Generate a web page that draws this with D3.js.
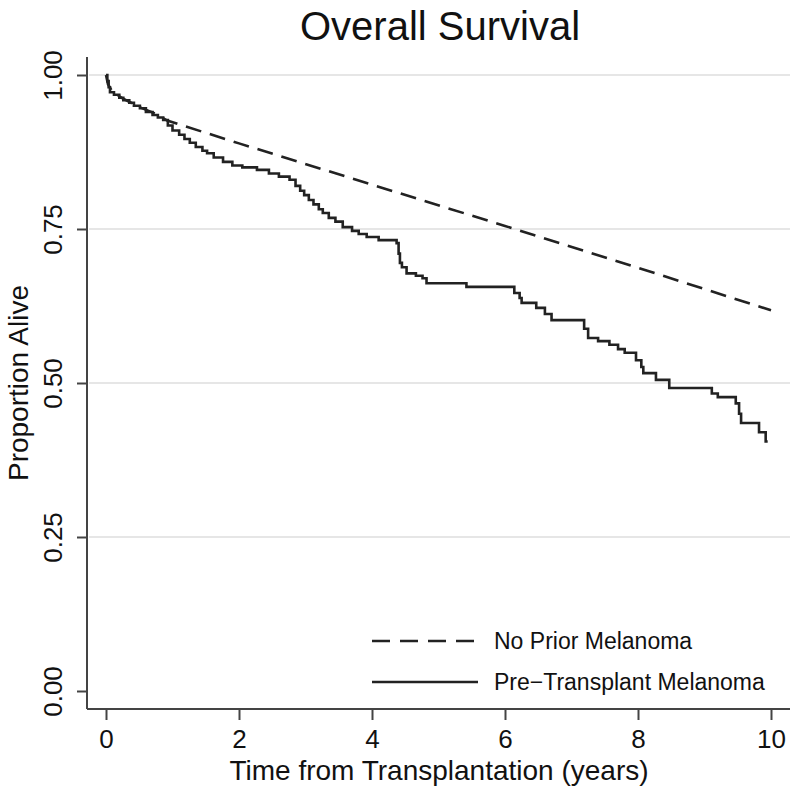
<!DOCTYPE html>
<html><head><meta charset="utf-8">
<script src="https://cdn.jsdelivr.net/npm/d3@7"></script>
<style>body{margin:0;background:#fff}svg{display:block}text{font-family:"Liberation Sans",Arial,Helvetica,sans-serif;fill:#111}</style>
</head><body>
<script>
// Data
const title = "Overall Survival";
const xTicks = [0, 2, 4, 6, 8, 10];
const yTicks = [0, 0.25, 0.5, 0.75, 1.0];
const yGrid = [0.25, 0.5, 0.75, 1.0];
const seriesNames = ["No Prior Melanoma", "Pre\u2212Transplant Melanoma"];

// No Prior Melanoma (dashed)
const noPriorTime = [0, 0.03, 0.1, 0.25, 0.5, 0.75, 0.92, 2, 4, 6, 8, 10];
const noPriorSurv = [1.0, 0.985, 0.972, 0.962, 0.948, 0.937, 0.926, 0.889, 0.822, 0.755, 0.687, 0.618];

// Pre-Transplant Melanoma (solid, Kaplan-Meier steps)
const preTime = [0, 0.02, 0.04, 0.06, 0.12, 0.2, 0.26, 0.35, 0.42, 0.51, 0.6, 0.7, 0.78, 0.86, 0.93, 1.0, 1.1, 1.18, 1.26, 1.35, 1.45, 1.52, 1.62, 1.76, 1.9, 2.05, 2.27, 2.45, 2.6, 2.76, 2.85, 2.92, 2.98, 3.05, 3.12, 3.2, 3.26, 3.35, 3.45, 3.56, 3.7, 3.8, 3.92, 4.1, 4.37, 4.4, 4.42, 4.45, 4.52, 4.66, 4.76, 4.82, 5.42, 6.14, 6.22, 6.25, 6.47, 6.6, 6.7, 7.19, 7.25, 7.4, 7.57, 7.7, 7.8, 7.97, 8.05, 8.08, 8.27, 8.47, 9.11, 9.2, 9.47, 9.52, 9.55, 9.82, 9.92, 9.95];
const preSurv = [1.0, 0.99, 0.98, 0.972, 0.968, 0.963, 0.959, 0.955, 0.95, 0.946, 0.94, 0.935, 0.931, 0.927, 0.918, 0.91, 0.903, 0.896, 0.89, 0.883, 0.877, 0.873, 0.866, 0.859, 0.853, 0.85, 0.846, 0.84, 0.835, 0.83, 0.82, 0.812, 0.805, 0.797, 0.79, 0.782, 0.776, 0.768, 0.762, 0.753, 0.747, 0.742, 0.737, 0.732, 0.727, 0.71, 0.695, 0.688, 0.678, 0.674, 0.67, 0.662, 0.656, 0.646, 0.638, 0.63, 0.622, 0.612, 0.602, 0.588, 0.573, 0.568, 0.562, 0.555, 0.549, 0.537, 0.526, 0.516, 0.505, 0.492, 0.483, 0.477, 0.467, 0.45, 0.435, 0.42, 0.405, 0.405];

const W = 800, H = 795;
const svg = d3.select("body").append("svg").attr("width", W).attr("height", H);

const x = d3.scaleLinear().domain([0, 10]).range([106, 771]);
const y = d3.scaleLinear().domain([0, 1]).range([691, 75]);

// title
svg.append("text").attr("x", 440).attr("y", 40).attr("text-anchor", "middle")
  .style("font-size", "40px").text(title);

// gridlines
svg.append("g").selectAll("line").data(yGrid).join("line")
  .attr("x1", 89).attr("x2", 790)
  .attr("y1", d => y(d)).attr("y2", d => y(d))
  .attr("stroke", "#e6e6e6").attr("stroke-width", 2);

// y axis
const yAxis = svg.append("g").attr("transform", "translate(87,0)")
  .call(d3.axisLeft(y).tickValues(yTicks).tickSize(10).tickFormat(d3.format(".2f")));
yAxis.select(".domain").attr("d", "M0,57V709").attr("stroke", "#444").attr("stroke-width", 2);
yAxis.selectAll(".tick line").attr("stroke", "#444").attr("stroke-width", 2);
yAxis.selectAll(".tick text")
  .attr("x", null).attr("dy", null)
  .attr("transform", "translate(-25,0) rotate(-90)")
  .attr("text-anchor", "middle")
  .style("font-size", "26px").style("font-family", "'Liberation Sans',Arial,sans-serif").attr("fill", "#111");

// x axis
const xAxis = svg.append("g").attr("transform", "translate(0,709)")
  .call(d3.axisBottom(x).tickValues(xTicks).tickSize(11).tickFormat(d3.format("d")));
xAxis.select(".domain").attr("d", "M87,0H790").attr("stroke", "#444").attr("stroke-width", 2);
xAxis.selectAll(".tick line").attr("stroke", "#444").attr("stroke-width", 2);
xAxis.selectAll(".tick text").attr("y", 39).attr("dy", null)
  .style("font-size", "26px").style("font-family", "'Liberation Sans',Arial,sans-serif").attr("fill", "#111");

// axis titles
svg.append("text").attr("x", 439).attr("y", 780).attr("text-anchor", "middle")
  .style("font-size", "28px").text("Time from Transplantation (years)");
svg.append("text").attr("transform", "translate(28,383) rotate(-90)").attr("text-anchor", "middle")
  .style("font-size", "28px").text("Proportion Alive");

// curves
const noPrior = noPriorTime.map((t, i) => [t, noPriorSurv[i]]);
const pre = preTime.map((t, i) => [t, preSurv[i]]);

svg.append("path").datum(noPrior)
  .attr("d", d3.line().x(d => x(d[0])).y(d => y(d[1])))
  .attr("fill", "none").attr("stroke", "#222").attr("stroke-width", 2.6)
  .attr("stroke-dasharray", "16,9");

svg.append("path").datum(pre)
  .attr("d", d3.line().x(d => x(d[0])).y(d => y(d[1])).curve(d3.curveStepAfter))
  .attr("fill", "none").attr("stroke", "#222").attr("stroke-width", 2.6);

// legend
const leg = svg.append("g");
const legY = [641, 682];
leg.append("line").attr("x1", 372).attr("x2", 478).attr("y1", legY[0]).attr("y2", legY[0])
  .attr("stroke", "#222").attr("stroke-width", 2.6).attr("stroke-dasharray", "18,10");
leg.append("line").attr("x1", 372).attr("x2", 478).attr("y1", legY[1]).attr("y2", legY[1])
  .attr("stroke", "#222").attr("stroke-width", 2.6);
leg.selectAll("text").data(seriesNames).join("text")
  .attr("x", 494).attr("y", (d, i) => legY[i] + 8)
  .style("font-size", "23px").text(d => d);
</script>
</body></html>
